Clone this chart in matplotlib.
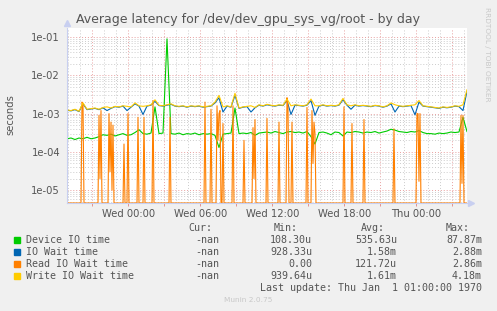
import numpy as np
import matplotlib
matplotlib.use("Agg")
import matplotlib.pyplot as plt
from matplotlib.patches import Rectangle

# time axis: hours relative to Wed 00:00
t_start = -5.125
t_end = 28.21

# baseline series, one sample every 20 minutes
device_io = [2.2, 2.3, 2.1, 2.3, 2.2, 2.4, 2.2, 2.3, 2.5, 2.8,
             2.7, 2.9, 2.6, 2.8, 3.0, 2.7, 2.8, 3.2, 3.8, 3.0,
             2.9, 3.1, 15.0, 3.0, 3.1, 900.0, 3.0, 2.9, 3.1, 2.8,
             3.0, 2.9, 3.1, 2.8, 3.0, 2.9, 3.0, 2.7, 1.3, 2.9,
             3.0, 3.1, 14.0, 3.0, 3.1, 3.0, 3.2, 2.7, 3.1, 3.2,
             3.3, 3.1, 3.4, 3.2, 3.0, 3.3, 3.4, 3.2, 3.3, 3.1,
             3.4, 2.5, 1.6, 3.2, 3.3, 3.1, 2.8, 3.3, 3.2, 2.6,
             3.3, 3.2, 3.4, 3.3, 3.1, 3.3, 3.2, 3.4, 3.1, 3.3,
             3.5, 3.9, 3.7, 3.4, 3.3, 3.2, 3.4, 3.3, 3.6, 3.2,
             3.0, 3.0, 2.9, 3.1, 3.0, 3.1, 3.3, 3.2, 3.3, 8.0,
             3.4]  # x 1e-4 s

write_wait = [1.25, 1.2, 1.3, 1.15, 1.9, 1.3, 1.35, 1.4, 1.3, 1.45,
              1.5, 1.4, 1.55, 1.5, 1.6, 1.55, 1.5, 1.9, 1.6, 1.55,
              1.6, 1.7, 2.3, 1.65, 1.6, 1.7, 1.8, 1.6, 1.55, 1.6,
              1.5, 1.6, 1.55, 1.6, 1.5, 1.55, 1.6, 2.0, 3.0, 1.5,
              1.6, 1.5, 3.4, 1.4, 1.5, 1.55, 1.6, 1.45, 1.7, 1.6,
              1.75, 1.65, 1.6, 1.7, 1.65, 2.4, 1.6, 1.7, 1.65, 1.6,
              1.7, 2.4, 1.6, 1.6, 1.7, 1.6, 1.65, 1.6, 1.7, 2.5,
              1.7, 1.6, 1.7, 1.6, 1.65, 1.6, 1.55, 1.65, 1.6, 1.5,
              1.6, 1.9, 1.7, 1.6, 1.55, 1.6, 1.65, 1.7, 2.2, 1.6,
              1.55, 1.5, 1.45, 1.4, 1.5, 1.45, 1.5, 1.6, 1.55, 1.7,
              4.2]  # x 1e-3 s

io_wait = [1.22, 1.18, 1.27, 1.13, 1.8, 1.27, 1.32, 1.37, 1.27, 1.42,
           1.2, 1.37, 1.52, 1.47, 1.57, 1.2, 1.47, 1.8, 1.57, 0.95,
           1.57, 1.66, 2.1, 1.62, 1.57, 1.66, 1.75, 1.57, 1.52, 1.57,
           1.47, 1.57, 1.52, 1.57, 1.47, 1.52, 1.57, 1.9, 2.6, 1.1,
           1.57, 1.47, 3.0, 1.37, 1.47, 1.52, 1.1, 1.42, 1.66, 1.57,
           1.7, 1.62, 1.57, 1.66, 1.62, 2.2, 0.95, 1.66, 1.62, 1.57,
           1.66, 2.2, 0.9, 1.57, 1.66, 1.57, 1.62, 1.57, 1.66, 2.3,
           1.66, 1.3, 1.66, 1.57, 1.62, 1.57, 1.52, 1.62, 1.57, 1.47,
           1.57, 1.8, 1.1, 1.57, 1.52, 1.57, 1.62, 0.93, 2.0, 1.57,
           1.52, 1.47, 1.42, 1.37, 1.47, 1.42, 1.47, 1.57, 1.52, 1.2,
           3.8]  # x 1e-3 s

# read wait: mostly zero, non-zero 5-minute samples (index, seconds)
read_idx = [15, 16, 32, 33, 34, 42, 43, 44, 45, 46, 57, 61, 71, 77, 86,
            103, 138, 144, 150, 151, 152, 153, 156, 166, 177, 186, 187, 188,
            200, 212, 220, 221, 225, 240, 245, 246, 247, 248, 277, 285,
            297, 327, 350, 351, 352, 353, 394, 395, 396]
read_val = [2.0e-3, 1.8e-3, 9e-4, 2e-5, 1.2e-3, 1.0e-3, 3e-5, 6e-4, 1e-5, 5e-4,
            1.6e-4, 1.0e-3, 8e-4, 8e-4, 2.2e-3,
            8e-4, 2.0e-3, 1.3e-3, 1.6e-3, 2e-4, 1.0e-3, 1.2e-3, 5.5e-4, 1.6e-3,
            2e-4, 4.3e-4, 2e-5, 7e-4,
            7.5e-4, 6e-4, 2.6e-3, 1.5e-3, 6e-4, 1.45e-3, 1.2e-3, 5e-5, 6e-4,
            3e-4, 1.5e-3, 5.5e-4,
            7e-4, 4e-4, 1.0e-3, 1.0e-3, 1.7e-5, 1.0e-3, 9e-4, 1.5e-5, 9e-4]
read_len = 401

tick_hours = [0, 6, 12, 18, 24]
tick_labels = ["Wed 00:00", "Wed 06:00", "Wed 12:00", "Wed 18:00", "Thu 00:00"]

legend_names = ["Device IO time", "IO Wait time", "Read IO Wait time", "Write IO Wait time"]
legend_cur = ["-nan", "-nan", "-nan", "-nan"]
legend_min = ["108.30u", "928.33u", "0.00", "939.64u"]
legend_avg = ["535.63u", "1.58m", "121.72u", "1.61m"]
legend_max = ["87.87m", "2.88m", "2.86m", "4.18m"]
colors = ["#00CC00", "#0066B3", "#FF8000", "#FFCC00"]

ymin, ymax = 4.6e-6, 0.173

t20 = t_start + np.arange(len(device_io)) / 3.0
t5 = t_start + np.arange(read_len) / 12.0
read = np.zeros(read_len)
read[read_idx] = read_val

W, H = 497, 311
fig = plt.figure(figsize=(W / 100, H / 100), dpi=100, facecolor="#F0F0F0")
ax = fig.add_axes([67 / W, 1 - 203 / H, 400 / W, 175 / H], facecolor="white")

ax.plot(t20, np.array(device_io) * 1e-4, color=colors[0], lw=0.8)
ax.plot(t20, np.array(io_wait) * 1e-3, color=colors[1], lw=0.8)
ax.plot(t5, np.clip(read, ymin, None), color=colors[2], lw=0.8)
ax.plot(t20, np.array(write_wait) * 1e-3, color=colors[3], lw=0.8)

ax.set_yscale("log")
ax.set_ylim(ymin, ymax)
ax.set_xlim(t_start, t_end)

# grid: red dotted every 3h / decade, grey dotted every hour / minor
ax.set_xticks(range(-3, 29, 3))
ax.set_xticklabels([tick_labels[tick_hours.index(h)] if h in tick_hours else "" for h in range(-3, 29, 3)])
ax.set_xticks(range(-5, 29), minor=True)
ax.set_yticks([1e-5, 1e-4, 1e-3, 1e-2, 1e-1])
ax.set_yticklabels(["1e-05", "1e-04", "1e-03", "1e-02", "1e-01"])
ax.grid(which="major", color="#E8A0A0", linestyle=(0, (1, 2)), lw=0.7)
ax.grid(which="minor", color="#CCCCCC", linestyle=(0, (1, 2)), lw=0.7)
ax.set_axisbelow(True)
ax.tick_params(axis="both", which="both", labelsize=7.2, colors="#555555", length=2, width=0.6)
ax.tick_params(axis="x", which="major", colors="#E08080", labelcolor="#555555", pad=2.5)
ax.tick_params(axis="y", which="minor", length=0)
ax.tick_params(axis="x", which="minor", length=0)
ax.tick_params(axis="y", which="major", length=0, pad=5)
for s in ["top", "right"]:
    ax.spines[s].set_visible(False)
for s in ["left", "bottom"]:
    ax.spines[s].set_color("#C8CFF0")
    ax.spines[s].set_linewidth(0.8)
ax.plot([0], [1.03], marker="^", color="#C8CFF0", ms=4, transform=ax.transAxes, clip_on=False)
ax.plot([1.01], [0], marker=">", color="#C8CFF0", ms=4, transform=ax.transAxes, clip_on=False)

fig.text(248 / W, 1 - 19 / H, "Average latency for /dev/dev_gpu_sys_vg/root - by day",
         ha="center", va="center", fontsize=9.0, color="#555555")
fig.text(10 / W, 1 - 115 / H, "seconds", rotation=90, ha="center", va="center",
         fontsize=7.2, color="#555555")
fig.text(487 / W, 1 - 54 / H, "RRDTOOL / TOBI OETIKER", rotation=270, ha="center", va="center",
         fontsize=5.3, color="#C8C8C8")

mono = dict(family="DejaVu Sans Mono", fontsize=7.2, color="#555555", va="center")
fig.text(212 / W, 1 - 228 / H, "Cur:", ha="right", **mono)
fig.text(298 / W, 1 - 228 / H, "Min:", ha="right", **mono)
fig.text(385 / W, 1 - 228 / H, "Avg:", ha="right", **mono)
fig.text(470 / W, 1 - 228 / H, "Max:", ha="right", **mono)
for k, name in enumerate(legend_names):
    y = 240 + 12 * k
    fig.patches.append(Rectangle((14 / W, 1 - (y + 3) / H), 6 / W, 6 / H,
                                 transform=fig.transFigure, color=colors[k]))
    fig.text(26 / W, 1 - y / H, name, ha="left", **mono)
    fig.text(219 / W, 1 - y / H, legend_cur[k], ha="right", **mono)
    fig.text(312 / W, 1 - y / H, legend_min[k], ha="right", **mono)
    fig.text(397 / W, 1 - y / H, legend_avg[k], ha="right", **mono)
    fig.text(482 / W, 1 - y / H, legend_max[k], ha="right", **mono)
fig.text(482 / W, 1 - 288 / H, "Last update: Thu Jan  1 01:00:00 1970", ha="right", **mono)
fig.text(248 / W, 1 - 300 / H, "Munin 2.0.75", ha="center", va="center", fontsize=5.3, color="#C8C8C8")

fig.savefig("out.png", dpi=100, facecolor=fig.get_facecolor())
